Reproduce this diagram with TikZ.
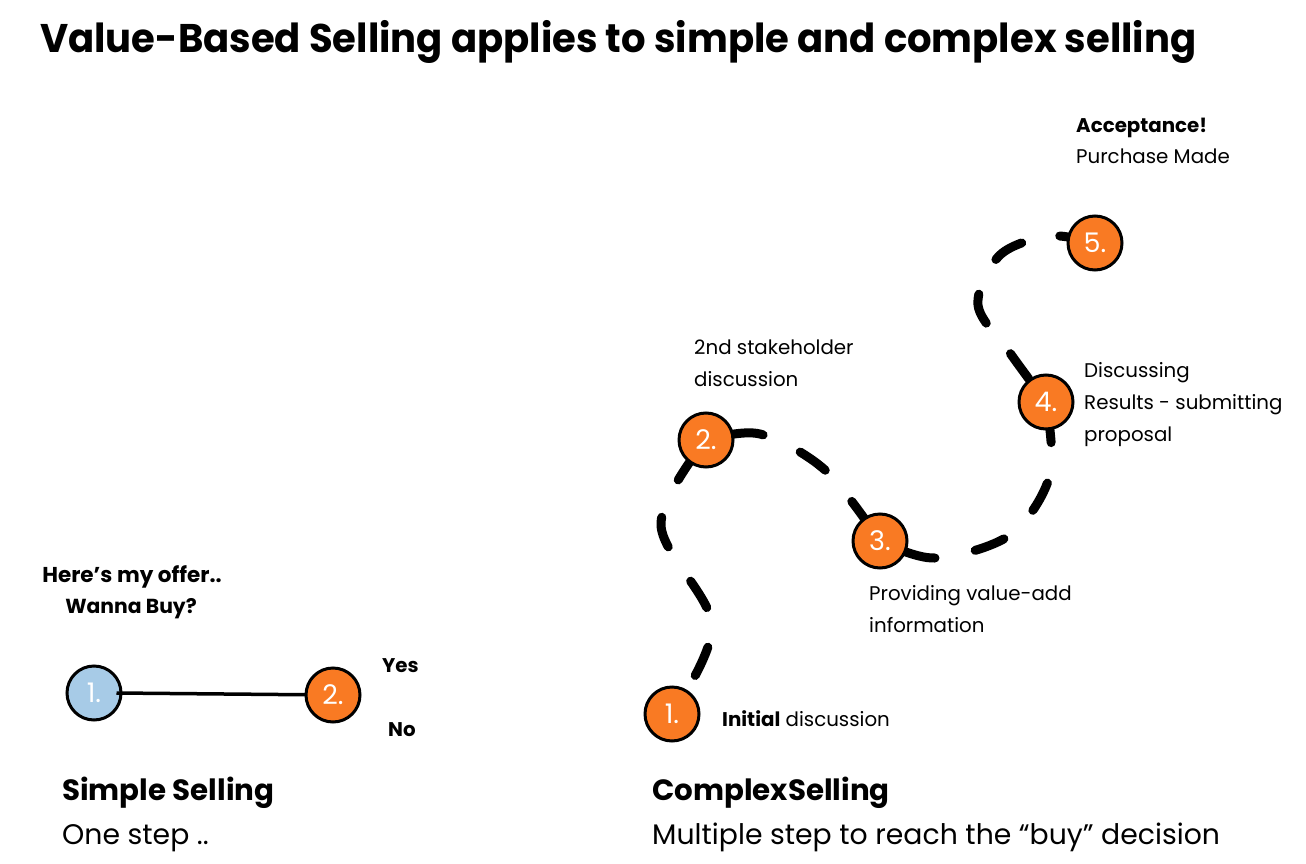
\documentclass[tikz,border=0pt]{standalone}
\usepackage{fontspec}
\setmainfont{Poppins}
\usetikzlibrary{backgrounds}
\definecolor{orng}{HTML}{F97A23}
\definecolor{lblue}{HTML}{A7CBE7}
\begin{document}
\begin{tikzpicture}[x=1pt,y=-1pt,
  stepc/.style={circle, draw=black, line width=3pt, minimum size=54pt, inner sep=0pt, text=white, font=\fontsize{27}{27}\selectfont},
  lbl/.style={anchor=base west, inner sep=0pt, font=\fontsize{19.8}{19.8}\selectfont},
  blbl/.style={lbl, font=\bfseries\fontsize{19.8}{19.8}\selectfont},
  head/.style={anchor=base west, inner sep=0pt, font=\bfseries\fontsize{29.3}{29.3}\selectfont},
  sub/.style={anchor=base west, inner sep=0pt, font=\fontsize{28.3}{28.3}\selectfont},
  dpath/.style={line width=9pt, line cap=round, dash pattern=on 31pt off 41pt}]
\useasboundingbox (0,0) rectangle (1306,864);

\node[anchor=base west, inner sep=0pt, font=\bfseries\fontsize{40}{40}\selectfont] (title) at (40,53) {\scalebox{0.964}[1]{Value-Based Selling applies to simple and complex selling}};

% simple selling
\node[stepc, fill=lblue] (s1) at (94,693) {1.};
\draw[line width=3.5pt] ([xshift=-6pt]s1.east) -- (333,695) coordinate (s2c);
\node[stepc, fill=orng] (s2) at (s2c) {2.};
\node[blbl, anchor=base, font=\bfseries\fontsize{21.5}{21.5}\selectfont] (offer) at (132,582) {Here’s my offer..};
\node[blbl, anchor=base, font=\bfseries\fontsize{20.3}{20.3}\selectfont] (buy) at (131,613) {Wanna Buy?};
\node[blbl] (yes) at (382,672) {Yes};
\node[blbl] (no) at (388,736) {No};
\node[head] (sh) at (62,800) {Simple Selling};
\node[sub] (ss) at (62,844) {One step ..};

% complex selling
\node[stepc, fill=orng] (c1) at (672,714) {1.};
\node[stepc, fill=orng] (c2) at (706,440) {2.};
\node[stepc, fill=orng] (c3) at (880,541) {3.};
\node[stepc, fill=orng] (c4) at (1046,402) {4.};
\node[stepc, fill=orng] (c5) at (1095,243) {5.};

\begin{scope}[on background layer]
\fill[white] (0,0) rectangle (1306,864);
\coordinate (a1) at (712,625);
\coordinate (a2) at (661,525);
\coordinate (b1) at (760,434);
\coordinate (b2) at (825,470);
\coordinate (d1) at (935,558);
\coordinate (d2) at (1010,535);
\coordinate (d3) at (1050,475);
\coordinate (e1) at (1010,353);
\coordinate (e2) at (978,305);
\coordinate (e3) at (1000,255);
\coordinate (e4) at (1050,236);
\draw[dpath, dash phase=27] plot[smooth, tension=0.55] coordinates {(c1.center) (a1) (a2) (c2.center)};
\draw[dpath, dash phase=45] plot[smooth, tension=0.55] coordinates {(c2.center) (b1) (b2) (c3.center)};
\draw[dpath, dash phase=45] plot[smooth, tension=0.55] coordinates {(c3.center) (d1) (d2) (d3) (c4.center)};
\draw[dpath, dash pattern=on 31pt off 39pt, dash phase=41] plot[smooth, tension=0.55] coordinates {(c4.center) (e1) (e2) (e3) (e4) (c5.center)};
\end{scope}

\node[blbl] (acc) at (1076,133) {Acceptance!};
\node[lbl] (pm) at (1076,164) {Purchase Made};
\node[lbl] (l2a) at (694,354) {2nd stakeholder};
\node[lbl] (l2b) at (694,386) {discussion};
\node[lbl] (l4a) at (1084,377) {Discussing};
\node[lbl] (l4b) at (1084,409) {Results - submitting};
\node[lbl] (l4c) at (1084,441) {proposal};
\node[lbl] (l3a) at (869,600) {Providing value-add};
\node[lbl] (l3b) at (869,632) {information};
\node[lbl] (l1) at (722,726) {\textbf{Initial} discussion};
\node[head] (ch) at (652,800) {ComplexSelling};
\node[sub] (cs) at (652,844) {Multiple step to reach the “buy” decision};
\end{tikzpicture}
\end{document}
